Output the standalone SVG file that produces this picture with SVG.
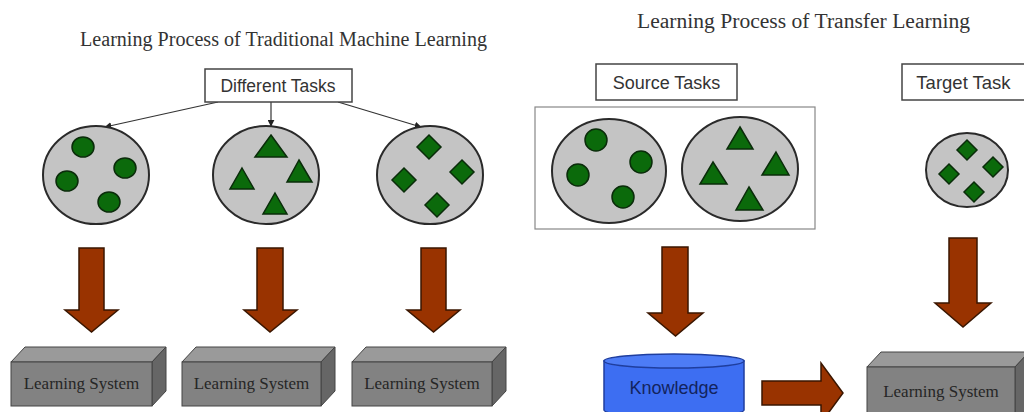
<svg xmlns="http://www.w3.org/2000/svg" width="1024" height="412" viewBox="0 0 1024 412">
<defs>
<style>
.title{font-family:"Liberation Serif","Times New Roman",serif;font-size:20px;fill:#333;}
.lbl{font-family:"Liberation Sans",Arial,sans-serif;font-size:17.5px;fill:#333;text-anchor:middle;}
.ls{font-family:"Liberation Serif","Times New Roman",serif;font-size:17px;fill:#262626;text-anchor:middle;}
.tbox{fill:#fff;stroke:#444;stroke-width:1.5;}
.pool{fill:#c4c4c4;stroke:#2a2a2a;stroke-width:2;}
.g{fill:#0b6a0b;stroke:#0a2c0a;stroke-width:1.5;}
.big{fill:#993300;stroke:#3a1600;stroke-width:1.5;stroke-linejoin:miter;}
.front{fill:#828282;stroke:#444;stroke-width:1;}
.top{fill:#9a9a9a;stroke:#444;stroke-width:1;}
.side{fill:#666;stroke:#444;stroke-width:1;}
.con{stroke:#333;stroke-width:1.2;fill:none;}
</style>
<marker id="ah" viewBox="0 0 10 10" refX="9" refY="5" markerWidth="7" markerHeight="7" orient="auto" markerUnits="userSpaceOnUse">
<path d="M0,0 L10,5 L0,10 Z" fill="#222"/>
</marker>
</defs>
<rect width="1024" height="412" fill="#fff"/>

<text class="title" x="80" y="46" textLength="407" lengthAdjust="spacingAndGlyphs">Learning Process of Traditional Machine Learning</text>
<text class="title" x="637" y="28" textLength="333" lengthAdjust="spacingAndGlyphs">Learning Process of Transfer Learning</text>

<g id="connectors">
<line class="con" x1="218" y1="102" x2="105" y2="127" marker-end="url(#ah)"/>
<line class="con" x1="271" y1="102" x2="271" y2="126" marker-end="url(#ah)"/>
<line class="con" x1="338" y1="102" x2="421" y2="127" marker-end="url(#ah)"/>
<path class="big" d="M79,248 H104 V310 H118 L91.5,332 L65,310 H79 Z"/>
<path class="big" d="M257,248 H283 V310 H297 L270,332 L244,310 H257 Z"/>
<path class="big" d="M421,248 H446 V310 H460 L433.5,332 L407,310 H421 Z"/>
<path class="big" d="M662,247 H688 V313 H703 L675.5,336 L648,313 H662 Z"/>
<path class="big" d="M949,238 H977 V303 H991 L963,327 L935,303 H949 Z"/>
<path class="big" d="M762,381 H821 V363 L843,393 L821,423 V405 H762 Z"/>
</g>

<g id="different-tasks">
<rect class="tbox" x="205" y="69" width="147" height="33"/>
<text class="lbl" x="278" y="92">Different Tasks</text>
</g>

<g id="pool-circles">
<ellipse class="pool" cx="96" cy="175" rx="53" ry="49"/>
<ellipse class="g" cx="83" cy="147" rx="11" ry="10"/>
<ellipse class="g" cx="125" cy="168" rx="11" ry="10"/>
<ellipse class="g" cx="67" cy="181" rx="11" ry="10"/>
<ellipse class="g" cx="109" cy="202" rx="11" ry="10"/>
</g>

<g id="pool-triangles">
<ellipse class="pool" cx="266" cy="175" rx="53" ry="49"/>
<polygon class="g" points="271,135 287,157 255,157"/>
<polygon class="g" points="299,160 312,182 287,182"/>
<polygon class="g" points="242,168 254,189 230,189"/>
<polygon class="g" points="275,193 287,214 263,214"/>
</g>

<g id="pool-diamonds">
<ellipse class="pool" cx="430" cy="175" rx="53" ry="49"/>
<polygon class="g" points="429,135 441,147 429,159 417,147"/>
<polygon class="g" points="462,160 474,172 462,184 450,172"/>
<polygon class="g" points="404,168 416,180 404,192 392,180"/>
<polygon class="g" points="437,193 449,205 437,217 425,205"/>
</g>

<g id="ls-1">
<polygon class="top" points="11,362 25,347 166,347 152,362"/>
<polygon class="side" points="152,362 166,347 166,391 152,406"/>
<rect class="front" x="11" y="362" width="141" height="44"/>
<text class="ls" x="81.5" y="389">Learning System</text>
</g>

<g id="ls-2">
<polygon class="top" points="182,362 196,347 335,347 321,362"/>
<polygon class="side" points="321,362 335,347 335,391 321,406"/>
<rect class="front" x="182" y="362" width="139" height="44"/>
<text class="ls" x="251.5" y="389">Learning System</text>
</g>

<g id="ls-3">
<polygon class="top" points="352,362 366,347 506,347 492,362"/>
<polygon class="side" points="492,362 506,347 506,391 492,406"/>
<rect class="front" x="352" y="362" width="140" height="44"/>
<text class="ls" x="422" y="389">Learning System</text>
</g>

<g id="source-tasks">
<rect class="tbox" x="596" y="64" width="141" height="36"/>
<text class="lbl" x="666.5" y="89" style="font-size:18px">Source Tasks</text>
</g>

<g id="source-group">
<rect x="535" y="107" width="280" height="122" fill="#fff" stroke="#888" stroke-width="1.2"/>
<ellipse class="pool" cx="609" cy="171" rx="57" ry="52"/>
<ellipse class="g" cx="596" cy="140" rx="11" ry="11"/>
<ellipse class="g" cx="641" cy="162" rx="11" ry="11"/>
<ellipse class="g" cx="578" cy="175" rx="11" ry="11"/>
<ellipse class="g" cx="623" cy="197" rx="11" ry="11"/>
<ellipse class="pool" cx="740" cy="169" rx="58" ry="52"/>
<polygon class="g" points="740,127 753,149 727,149"/>
<polygon class="g" points="776,152 789,175 762,175"/>
<polygon class="g" points="713,162 727,184 700,184"/>
<polygon class="g" points="749,187 763,210 736,210"/>
</g>

<g id="target-task">
<rect class="tbox" x="902" y="64" width="130" height="36"/>
<text class="lbl" x="963.5" y="89" style="font-size:18.5px">Target Task</text>
</g>

<g id="target-pool">
<ellipse class="pool" cx="967" cy="170" rx="41" ry="37"/>
<polygon class="g" points="967,140 977,150 967,160 957,150"/>
<polygon class="g" points="993,157 1003,167 993,177 983,167"/>
<polygon class="g" points="949,164 959,174 949,184 939,174"/>
<polygon class="g" points="974,182 984,192 974,202 964,192"/>
</g>

<g id="knowledge">
<path d="M604,361 V410 A70,7 0 0 0 744,410 V361 Z" fill="#3d6ef2" stroke="#1f3e9e" stroke-width="1.5"/>
<ellipse cx="674" cy="361" rx="70" ry="7" fill="#4d7cf6" stroke="#1f3e9e" stroke-width="1.5"/>
<text x="674" y="394" font-family="'Liberation Sans',Arial,sans-serif" font-size="18" fill="#13245e" text-anchor="middle">Knowledge</text>
</g>

<g id="ls-target">
<polygon class="top" points="867,367 881,352 1029,352 1015,367"/>
<polygon class="side" points="1015,367 1029,352 1029,412 1015,420"/>
<rect class="front" x="867" y="367" width="148" height="50"/>
<text class="ls" x="941" y="397">Learning System</text>
</g>
</svg>
